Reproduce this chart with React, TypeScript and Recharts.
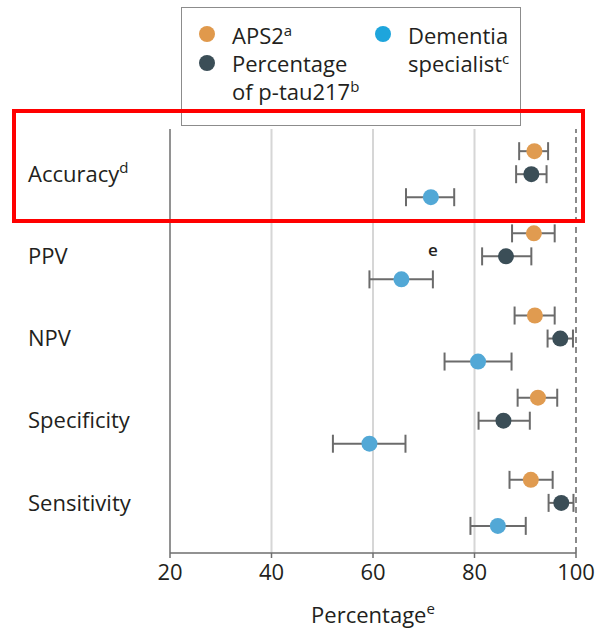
import React from 'react';
import {
  ScatterChart,
  Scatter,
  XAxis,
  YAxis,
  ErrorBar,
  ReferenceLine,
  ReferenceDot,
} from 'recharts';

// Diagnostic metrics (top to bottom) and their footnote markers
const metrics = ['Accuracy', 'PPV', 'NPV', 'Specificity', 'Sensitivity'];
const metricNotes = ['d', '', '', '', ''];

// APS2 estimates with 95% CI
const aps2 = [91.8, 91.7, 91.9, 92.5, 91.1];
const aps2Low = [88.8, 87.4, 87.9, 88.5, 86.9];
const aps2High = [94.5, 95.8, 95.8, 96.3, 95.4];

// Percentage of p-tau217 estimates with 95% CI
const ptau = [91.2, 86.2, 96.9, 85.7, 97.1];
const ptauLow = [88.2, 81.5, 94.4, 80.8, 94.6];
const ptauHigh = [94.2, 91.2, 99.4, 90.9, 99.5];

// Dementia specialist estimates with 95% CI
const specialist = [71.4, 65.6, 80.7, 59.3, 84.6];
const specialistLow = [66.5, 59.3, 74.1, 52.1, 79.2];
const specialistHigh = [76.0, 71.8, 87.3, 66.4, 90.1];

const xTicks = [20, 40, 60, 80, 100];
const gridValues = [40, 60, 80];

const seriesNames = ['APS2', 'Percentage of p-tau217', 'Dementia specialist'];
const seriesNotes = ['a', 'b', 'c'];
const legendLines = [['APS2'], ['Percentage', 'of p-tau217'], ['Dementia', 'specialist']];
const seriesColors = ['#E09B50', '#3B4E57', '#52A8D6'];
const legendColors = ['#E0994C', '#3B4E57', '#1EA5DC'];

const FONT = '"Open Sans", "Noto Sans", sans-serif';
const TEXT = '#231F20';
const ROW_OFFSET = 0.28;

const buildSeries = (values: number[], low: number[], high: number[], offset: number) =>
  metrics.map((m, i) => ({
    metric: m,
    x: values[i],
    y: i + offset,
    err: [values[i] - low[i], high[i] - values[i]],
  }));

const aps2Data = buildSeries(aps2, aps2Low, aps2High, -ROW_OFFSET);
const ptauData = buildSeries(ptau, ptauLow, ptauHigh, 0);
const specialistData = buildSeries(specialist, specialistLow, specialistHigh, ROW_OFFSET);

const dot = (color: string) => (props: any) =>
  <circle cx={props.cx} cy={props.cy} r={8} fill={color} />;

const RowLabel = (props: any) => {
  const { y, payload } = props;
  const i = payload.value as number;
  return (
    <text x={28} y={y} dy="0.35em" fontSize={22} fill={TEXT} fontFamily={FONT} textAnchor="start">
      {metrics[i]}
      {metricNotes[i] ? (
        <tspan dy={-9} fontSize={15}>
          {metricNotes[i]}
        </tspan>
      ) : null}
    </text>
  );
};

const AxisTitle = (props: any) => {
  const { viewBox } = props;
  const cx = viewBox.x + viewBox.width / 2;
  return (
    <text x={cx} y={viewBox.y + 70} fontSize={22} fill={TEXT} fontFamily={FONT} textAnchor="middle">
      Percentage
      <tspan dy={-9} fontSize={15}>e</tspan>
    </text>
  );
};

const legendItemPos = [
  { left: 17, top: 18, textLeft: 50, textTop: 12.5 },
  { left: 17, top: 47, textLeft: 50, textTop: 40.5 },
  { left: 193, top: 18, textLeft: 226, textTop: 12.5 },
];

const LegendBox = () => (
  <div
    style={{
      position: 'absolute',
      left: 181,
      top: 7,
      width: 340,
      height: 119,
      boxSizing: 'border-box',
      border: '1.5px solid #8C8C8C',
      background: '#fff',
      fontFamily: FONT,
      fontSize: 22,
      color: TEXT,
    }}
  >
    {seriesNames.map((name, i) => (
      <React.Fragment key={name}>
        <span
          style={{
            position: 'absolute',
            left: legendItemPos[i].left,
            top: legendItemPos[i].top,
            width: 16,
            height: 16,
            borderRadius: '50%',
            background: legendColors[i],
          }}
        />
        <div
          style={{
            position: 'absolute',
            left: legendItemPos[i].textLeft,
            top: legendItemPos[i].textTop,
            lineHeight: '28px',
            whiteSpace: 'nowrap',
          }}
        >
          {legendLines[i].map((line, j) => (
            <div key={j}>
              {line}
              {j === legendLines[i].length - 1 ? (
                <span style={{ fontSize: 15, position: 'relative', top: -8, lineHeight: 0 }}>
                  {seriesNotes[i]}
                </span>
              ) : null}
            </div>
          ))}
        </div>
      </React.Fragment>
    ))}
  </div>
);

export default function App() {
  return (
    <div style={{ position: 'absolute', left: 0, top: 0, width: 595, height: 630, background: '#fff' }}>
      <ScatterChart width={595} height={630} margin={{ top: 129, right: 19, bottom: 17, left: 0 }}>
        <XAxis
          type="number"
          dataKey="x"
          domain={[20, 100]}
          ticks={xTicks}
          allowDataOverflow
          axisLine={{ stroke: '#6E6E6E', strokeWidth: 1.5 }}
          tickLine={{ stroke: '#6E6E6E', strokeWidth: 1.5 }}
          tickSize={5}
          tickMargin={6}
          height={60}
          tick={{ fontSize: 22, fill: TEXT, fontFamily: FONT }}
          label={<AxisTitle />}
        />
        <YAxis
          type="number"
          dataKey="y"
          domain={[-0.55, 4.61]}
          reversed
          ticks={[0, 1, 2, 3, 4]}
          width={170}
          axisLine={{ stroke: '#6E6E6E', strokeWidth: 1.5 }}
          tickLine={false}
          tick={<RowLabel />}
        />
        {gridValues.map((v) => (
          <ReferenceLine key={v} x={v} stroke="#D6D6D6" strokeWidth={2} />
        ))}
        <ReferenceLine x={100} stroke="#8A8A8A" strokeWidth={2} strokeDasharray="6 4" />
        <Scatter name={seriesNames[0]} data={aps2Data} fill={seriesColors[0]} shape={dot(seriesColors[0])} isAnimationActive={false}>
          <ErrorBar dataKey="err" direction="x" width={9} stroke="#6B6B6B" strokeWidth={2} />
        </Scatter>
        <Scatter name={seriesNames[1]} data={ptauData} fill={seriesColors[1]} shape={dot(seriesColors[1])} isAnimationActive={false}>
          <ErrorBar dataKey="err" direction="x" width={9} stroke="#6B6B6B" strokeWidth={2} />
        </Scatter>
        <Scatter name={seriesNames[2]} data={specialistData} fill={seriesColors[2]} shape={dot(seriesColors[2])} isAnimationActive={false}>
          <ErrorBar dataKey="err" direction="x" width={9} stroke="#6B6B6B" strokeWidth={2} />
        </Scatter>
        <ReferenceDot
          x={specialistHigh[1]}
          y={1 + ROW_OFFSET}
          r={1}
          fill="none"
          stroke="none"
          label={{ value: 'e', position: 'top', offset: 22, fontSize: 17, fontWeight: 600, fill: TEXT, fontFamily: FONT }}
        />
      </ScatterChart>
      <LegendBox />
      {/* highlight frame around the accuracy row */}
      <div
        style={{
          position: 'absolute',
          left: 12,
          top: 109,
          width: 573,
          height: 114,
          boxSizing: 'border-box',
          border: '4px solid #FF0000',
          pointerEvents: 'none',
        }}
      />
    </div>
  );
}
